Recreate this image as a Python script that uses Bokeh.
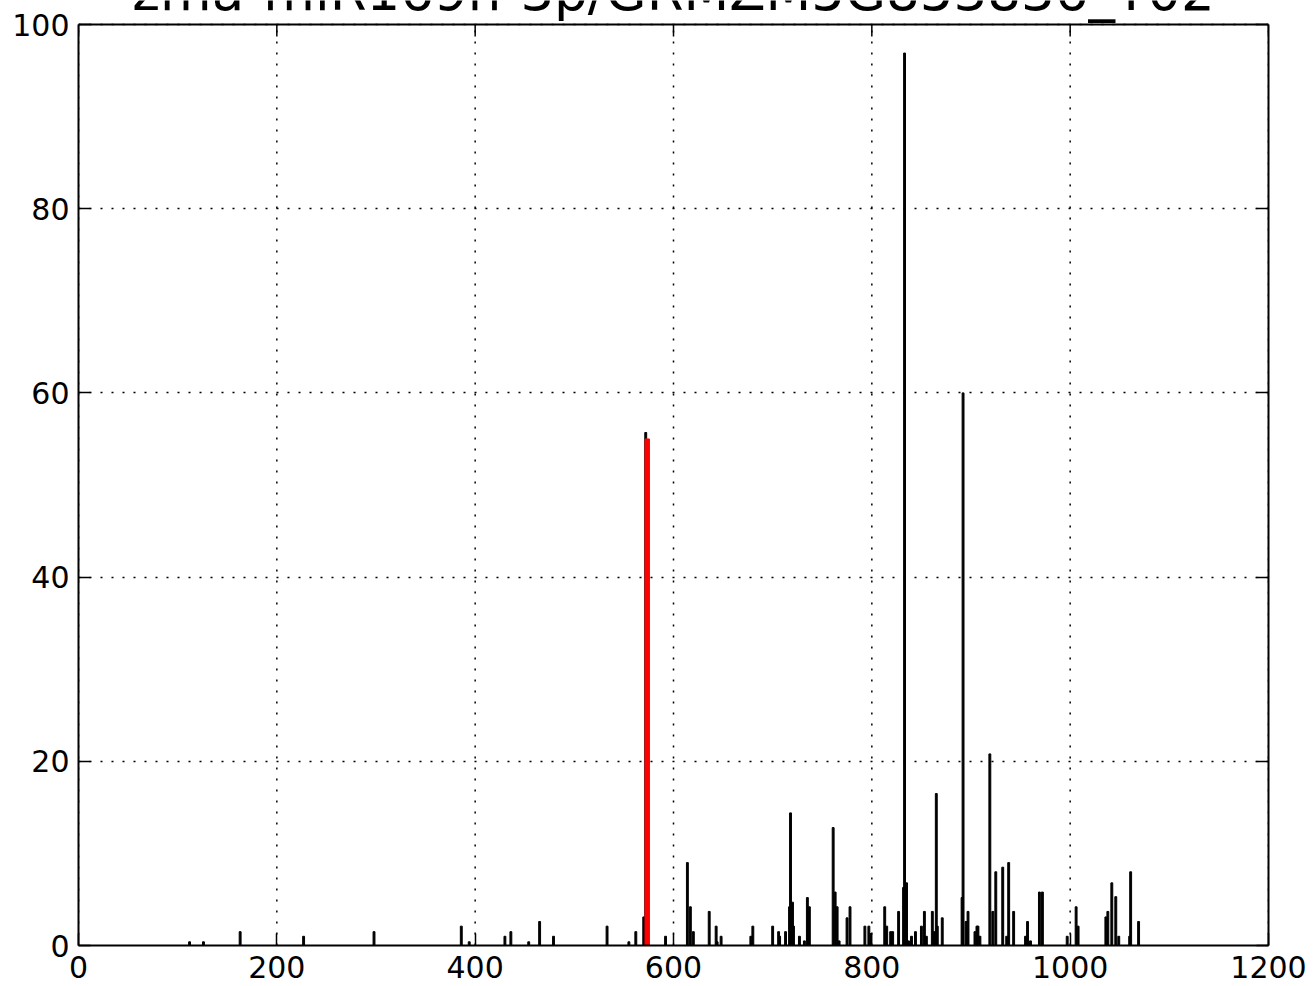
from bokeh.plotting import figure
from bokeh.models import Range1d, LinearAxis, FixedTicker, Label, Span, ColumnDataSource
from bokeh.embed import file_html
from bokeh.resources import INLINE

title_text = "zma-miR169n-3p/GRMZM5G853836_T02"

positions = [112, 126, 163, 227, 298, 386, 394, 430, 436, 454, 465, 479, 533, 555,
             562, 570, 572, 592, 614, 617, 620, 636, 643, 644, 648, 678, 680, 700,
             706, 707, 713, 717, 718, 720, 721, 727, 732, 735, 737, 761, 763, 765,
             767, 775, 778, 793, 797, 799, 813, 815, 819, 821, 827, 832, 833, 835,
             837, 840, 844, 850, 853, 855, 861, 863, 865, 866, 871, 891, 892, 895,
             897, 904, 906, 907, 909, 919, 922, 925, 932, 936, 938, 943, 955, 957,
             960, 969, 972, 997, 1006, 1008, 1036, 1038, 1042, 1046, 1049, 1060,
             1061, 1069]
heights = [0.4, 0.4, 1.5, 1.0, 1.5, 2.1, 0.4, 1.0, 1.5, 0.4, 2.6, 1.0, 2.1, 0.4,
           1.5, 3.1, 55.7, 1.0, 9.0, 4.2, 1.5, 3.7, 2.1, 0.4, 1.0, 1.0, 2.1, 2.1,
           1.5, 1.0, 1.5, 4.2, 14.4, 4.7, 2.1, 1.0, 0.5, 5.2, 4.2, 12.8, 5.8, 4.2,
           0.5, 3.0, 4.2, 2.1, 2.1, 1.3, 4.2, 2.1, 1.5, 1.5, 3.7, 6.3, 96.9, 6.8,
           0.5, 1.0, 1.5, 2.1, 3.7, 1.0, 3.7, 1.5, 16.5, 2.1, 3.0, 5.2, 60.0, 2.6,
           3.7, 1.5, 2.1, 2.1, 1.0, 20.8, 3.7, 8.0, 8.5, 1.0, 9.0, 3.7, 1.0, 2.6,
           0.5, 5.8, 5.8, 1.0, 4.2, 2.1, 3.1, 3.7, 6.8, 5.3, 1.0, 1.0,
           8.0, 2.6]

target_pos = [573.5]
target_height = [55.0]

x_ticks = [0, 200, 400, 600, 800, 1000, 1200]
y_ticks = [0, 20, 40, 60, 80, 100]

FONT = "DejaVu Sans"
Y_MAX = 100
# frame extends above y=100 so the clipped title can sit inside it
Y_TOP = Y_MAX * 945 / 921

p = figure(width=1313, height=986,
           x_range=Range1d(0, 1200), y_range=Range1d(0, Y_TOP),
           output_backend="svg", toolbar_location=None,
           min_border_left=78, min_border_top=0, min_border_right=45,
           min_border_bottom=41)
p.background_fill_color = "white"
p.border_fill_color = "white"
p.outline_line_color = None

for ax in (p.xaxis[0], p.yaxis[0]):
    ax.axis_line_color = "black"
    ax.axis_line_width = 2
    ax.major_tick_in = 12
    ax.major_tick_out = 0
    ax.minor_tick_line_color = None
    ax.major_tick_line_color = "black"
    ax.major_tick_line_width = 1.5
    ax.major_label_text_font = FONT
    ax.major_label_text_font_size = "30px"
    ax.major_label_text_color = "black"

p.xaxis[0].ticker = FixedTicker(ticks=x_ticks)
p.yaxis[0].ticker = FixedTicker(ticks=y_ticks)
p.yaxis[0].bounds = (0, Y_MAX)
p.xaxis[0].major_label_standoff = 10
p.yaxis[0].major_label_standoff = 9

right_ax = LinearAxis(ticker=FixedTicker(ticks=y_ticks), bounds=(0, Y_MAX))
right_ax.axis_line_color = "black"
right_ax.axis_line_width = 2
right_ax.major_tick_in = 12
right_ax.major_tick_out = 0
right_ax.minor_tick_line_color = None
right_ax.major_tick_line_color = "black"
right_ax.major_tick_line_width = 1.5
right_ax.major_label_text_font_size = "1px"
right_ax.major_label_text_color = None
right_ax.major_label_standoff = 0
p.add_layout(right_ax, "right")

# top border of the axes box
p.add_layout(Span(location=Y_MAX, dimension="width", line_color="black", line_width=2))

# grid
p.xgrid[0].visible = False
p.ygrid[0].grid_line_color = "black"
p.ygrid[0].grid_line_width = 1.5
p.ygrid[0].grid_line_dash = "2 9"
p.ygrid[0].ticker = FixedTicker(ticks=y_ticks)
p.segment(x0=x_ticks, y0=[0] * len(x_ticks), x1=x_ticks, y1=[Y_MAX] * len(x_ticks),
          line_color="black", line_width=1.5, line_dash="2 9")
# inward tick marks on the top edge
p.segment(x0=x_ticks, y0=[Y_MAX] * len(x_ticks), x1=x_ticks,
          y1=[Y_MAX - 12 * Y_TOP / 945] * len(x_ticks),
          line_color="black", line_width=1.5)

src = ColumnDataSource(dict(x=positions, top=heights))
p.vbar(x="x", top="top", bottom=0, width=1.9, source=src,
       fill_color="black", line_color="black", line_width=1)

tsrc = ColumnDataSource(dict(x=target_pos, top=target_height))
p.vbar(x="x", top="top", bottom=0, width=4.5, source=tsrc,
       fill_color="#ff0000", line_color="#ff0000", line_width=1)

title = Label(x=600, y=101.52, y_offset=19, text=title_text, text_align="center",
              text_baseline="alphabetic", text_font=FONT,
              text_font_size="53px", text_color="black")
p.add_layout(title)

open("out.html", "w").write(file_html(p, INLINE))
